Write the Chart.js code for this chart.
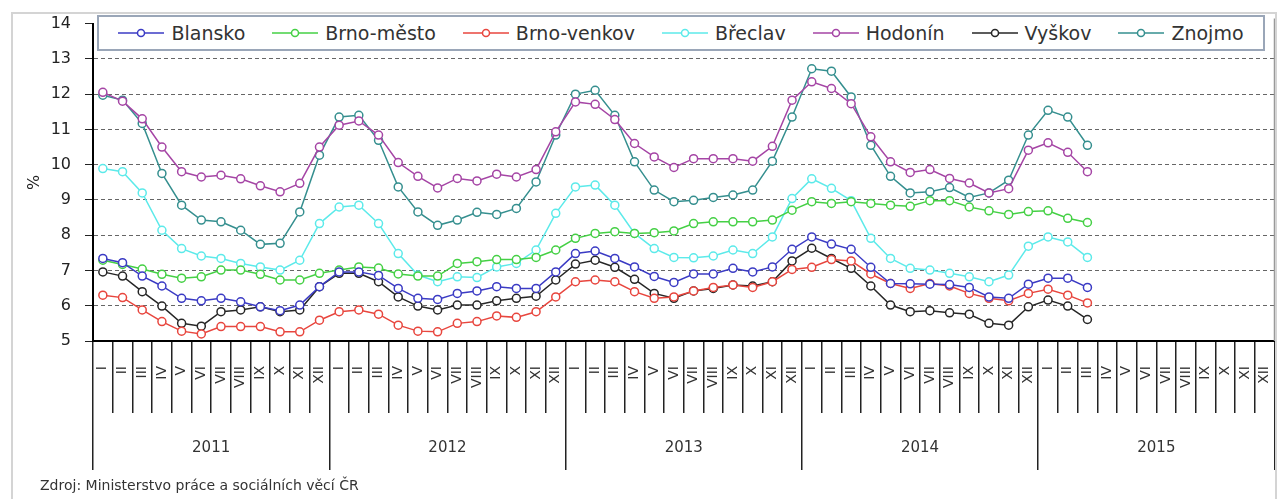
<!DOCTYPE html>
<html>
<head>
<meta charset="utf-8">
<script src="https://cdn.jsdelivr.net/npm/chart.js@4"></script>
<style>
  body { margin: 0; background: #fff; font-family: "DejaVu Sans", sans-serif; }
  #wrap { position: relative; width: 1280px; height: 499px; overflow: hidden; }
  #frame { position: absolute; left: 11px; top: 12px; width: 1266px; height: 540px; border: 2px solid #d4d4d4; box-sizing: border-box; }
  #legend { position: absolute; left: 97px; top: 15px; width: 1168px; height: 36px; box-sizing: border-box;
            border: 2px solid #9aa6b8; background: #fff; display: flex; justify-content: center; align-items: center; gap: 27px; }
  #legend .item { display: flex; align-items: center; font-size: 19px; color: #333; white-space: nowrap; }
  #legend .item canvas { margin-right: 7px; }
  #source { position: absolute; left: 40px; top: 477px; font-size: 14px; color: #333; white-space: nowrap; }
</style>
</head>
<body>
<div id="wrap">
  <div id="frame"></div>
  <canvas id="chart"></canvas>
  <div id="legend"></div>
  <div id="source">Zdroj: Ministerstvo práce a sociálních věcí ČR</div>
</div>
<script>
const years = ['2011', '2012', '2013', '2014', '2015'];
const months = ['I', 'II', 'III', 'IV', 'V', 'VI', 'VII', 'VIII', 'IX', 'X', 'XI', 'XII'];
const monthLabels = years.flatMap(() => months);

const blansko = [7.34, 7.22, 6.84, 6.56, 6.21, 6.14, 6.21, 6.11, 5.97, 5.86, 6.02, 6.54,
  6.96, 6.96, 6.86, 6.49, 6.21, 6.18, 6.35, 6.42, 6.54, 6.49, 6.49, 6.96,
  7.48, 7.55, 7.34, 7.10, 6.83, 6.66, 6.90, 6.90, 7.06, 6.96, 7.10, 7.60,
  7.95, 7.75, 7.60, 7.09, 6.63, 6.62, 6.61, 6.60, 6.52, 6.25, 6.21, 6.61,
  6.78, 6.78, 6.52];
const brnoMesto = [7.29, 7.17, 7.04, 6.89, 6.78, 6.82, 7.01, 7.01, 6.89, 6.73, 6.73, 6.92,
  7.01, 7.10, 7.07, 6.90, 6.84, 6.84, 7.20, 7.25, 7.31, 7.31, 7.37, 7.58,
  7.91, 8.05, 8.10, 8.05, 8.07, 8.12, 8.33, 8.38, 8.38, 8.38, 8.43, 8.71,
  8.95, 8.90, 8.95, 8.90, 8.85, 8.82, 8.98, 8.98, 8.80, 8.69, 8.59, 8.67,
  8.69, 8.48, 8.36];
const brnoVenkov = [6.30, 6.23, 5.88, 5.55, 5.28, 5.20, 5.41, 5.41, 5.41, 5.26, 5.26, 5.59,
  5.83, 5.88, 5.76, 5.45, 5.28, 5.26, 5.50, 5.55, 5.71, 5.67, 5.83, 6.25,
  6.68, 6.73, 6.68, 6.40, 6.21, 6.25, 6.42, 6.52, 6.59, 6.52, 6.68, 7.03,
  7.09, 7.31, 7.27, 6.90, 6.63, 6.49, 6.63, 6.56, 6.35, 6.21, 6.14, 6.35,
  6.47, 6.30, 6.08];
const breclav = [9.89, 9.80, 9.20, 8.14, 7.62, 7.41, 7.34, 7.20, 7.10, 7.01, 7.29, 8.33,
  8.80, 8.85, 8.33, 7.48, 6.87, 6.68, 6.82, 6.80, 7.10, 7.20, 7.58, 8.62,
  9.37, 9.42, 8.85, 8.05, 7.62, 7.37, 7.36, 7.41, 7.58, 7.48, 7.95, 9.04,
  9.60, 9.33, 8.98, 7.91, 7.34, 7.06, 7.01, 6.92, 6.82, 6.68, 6.87, 7.69,
  7.95, 7.81, 7.37];
const hodonin = [12.05, 11.80, 11.30, 10.50, 9.80, 9.65, 9.70, 9.60, 9.40, 9.23, 9.47, 10.50,
  11.12, 11.24, 10.84, 10.06, 9.67, 9.34, 9.61, 9.54, 9.73, 9.65, 9.86, 10.93,
  11.78, 11.71, 11.28, 10.60, 10.22, 9.92, 10.17, 10.17, 10.17, 10.10, 10.52, 11.83,
  12.35, 12.16, 11.73, 10.79, 10.08, 9.78, 9.86, 9.61, 9.48, 9.20, 9.32, 10.41,
  10.62, 10.35, 9.80];
const vyskov = [6.96, 6.84, 6.40, 5.99, 5.50, 5.42, 5.83, 5.88, 5.97, 5.83, 5.88, 6.54,
  6.92, 6.92, 6.68, 6.25, 5.99, 5.88, 6.02, 6.02, 6.14, 6.21, 6.27, 6.73,
  7.18, 7.29, 7.09, 6.75, 6.35, 6.21, 6.42, 6.49, 6.59, 6.56, 6.68, 7.27,
  7.63, 7.34, 7.06, 6.56, 6.02, 5.83, 5.86, 5.80, 5.76, 5.50, 5.45, 5.97,
  6.16, 5.99, 5.61];
const znojmo = [11.97, 11.83, 11.17, 9.75, 8.85, 8.43, 8.38, 8.14, 7.74, 7.77, 8.66, 10.27,
  11.35, 11.40, 10.69, 9.37, 8.66, 8.28, 8.43, 8.65, 8.59, 8.76, 9.51, 10.84,
  12.00, 12.11, 11.40, 10.08, 9.28, 8.95, 8.99, 9.07, 9.14, 9.28, 10.10, 11.35,
  12.72, 12.65, 11.92, 10.55, 9.67, 9.20, 9.23, 9.35, 9.07, 9.20, 9.56, 10.84,
  11.54, 11.35, 10.55];

const seriesNames = ['Blansko', 'Brno-město', 'Brno-venkov', 'Břeclav', 'Hodonín', 'Vyškov', 'Znojmo'];
const seriesData = [blansko, brnoMesto, brnoVenkov, breclav, hodonin, vyskov, znojmo];
const seriesColors = ['#3b3bc4', '#45d045', '#e8463e', '#5ceaea', '#a545a5', '#262626', '#358f8f'];

// little "line with circle" swatch for the legend
function legendSwatch(color) {
  const c = document.createElement('canvas');
  c.width = 46; c.height = 14;
  const g = c.getContext('2d');
  g.strokeStyle = color;
  g.lineWidth = 1.5;
  g.beginPath(); g.moveTo(0, 7); g.lineTo(46, 7); g.stroke();
  g.fillStyle = '#fff';
  g.beginPath(); g.arc(23, 7, 3.5, 0, Math.PI * 2); g.fill(); g.stroke();
  return c;
}

// right edge of the plot runs up to the legend
const plotEdge = {
  id: 'plotEdge',
  afterDraw(chart) {
    const ctx = chart.ctx, a = chart.chartArea;
    ctx.save();
    ctx.strokeStyle = '#999';
    ctx.lineWidth = 1.5;
    ctx.beginPath(); ctx.moveTo(a.right, a.top - 5); ctx.lineTo(a.right, a.bottom); ctx.stroke();
    ctx.restore();
  }
};

const chart = new Chart(document.getElementById('chart'), {
  type: 'line',
  data: {
    labels: monthLabels,
    datasets: seriesNames.map((name, i) => ({
      label: name,
      data: seriesData[i],
      borderColor: seriesColors[i],
      backgroundColor: '#fff',
      borderWidth: 1.5,
      pointRadius: 4,
      pointBorderWidth: 1.5,
      pointBackgroundColor: '#fff',
      pointBorderColor: seriesColors[i],
      tension: 0
    }))
  },
  options: {
    responsive: true,
    maintainAspectRatio: false,
    animation: false,
    layout: { padding: { left: 13, right: 5, top: 23, bottom: 26 } },
    plugins: {
      tooltip: { enabled: false },
      legend: { display: false }
    },
    scales: {
      x: {
        type: 'category',
        offset: true,
        grid: { display: true, drawOnChartArea: false, offset: true, tickLength: 72, color: '#222', lineWidth: 1.5 },
        border: { display: true, color: '#000', width: 2 },
        ticks: {
          autoSkip: false, minRotation: 90, maxRotation: 90, padding: -47,
          color: '#333', font: { family: 'DejaVu Sans', size: 14 }
        },
        afterFit(s) { s.height = 72; }
      },
      xYear: {
        type: 'category',
        position: 'bottom',
        labels: years,
        offset: true,
        grid: { display: true, drawOnChartArea: false, offset: true, tickLength: 57, color: '#222', lineWidth: 1.5 },
        border: { display: false },
        ticks: { padding: -31, color: '#333', font: { family: 'DejaVu Sans', size: 15 } },
        afterFit(s) { s.height = 60; }
      },
      y: {
        min: 5,
        max: 14,
        ticks: { stepSize: 1, padding: 14, color: '#222', font: { family: 'DejaVu Sans', size: 16 } },
        grid: {
          color: c => (c.tick && (c.tick.value === 5 || c.tick.value === 14)) ? 'rgba(0,0,0,0)' : '#666',
          tickColor: '#222',
          tickLength: 8,
          lineWidth: 1
        },
        border: { display: true, color: '#000', width: 2, dash: [4, 3] },
        title: { display: true, text: '%', color: '#222', font: { family: 'DejaVu Sans', size: 16 }, padding: { top: 12, bottom: 0 } },
        afterFit(s) { s.width = 80; }
      }
    }
  },
  plugins: [plotEdge]
});

const legendBox = document.getElementById('legend');
chart.data.datasets.forEach(ds => {
  const item = document.createElement('span');
  item.className = 'item';
  item.appendChild(legendSwatch(ds.borderColor));
  const txt = document.createElement('span');
  txt.textContent = ds.label;
  item.appendChild(txt);
  legendBox.appendChild(item);
});
</script>
</body>
</html>
